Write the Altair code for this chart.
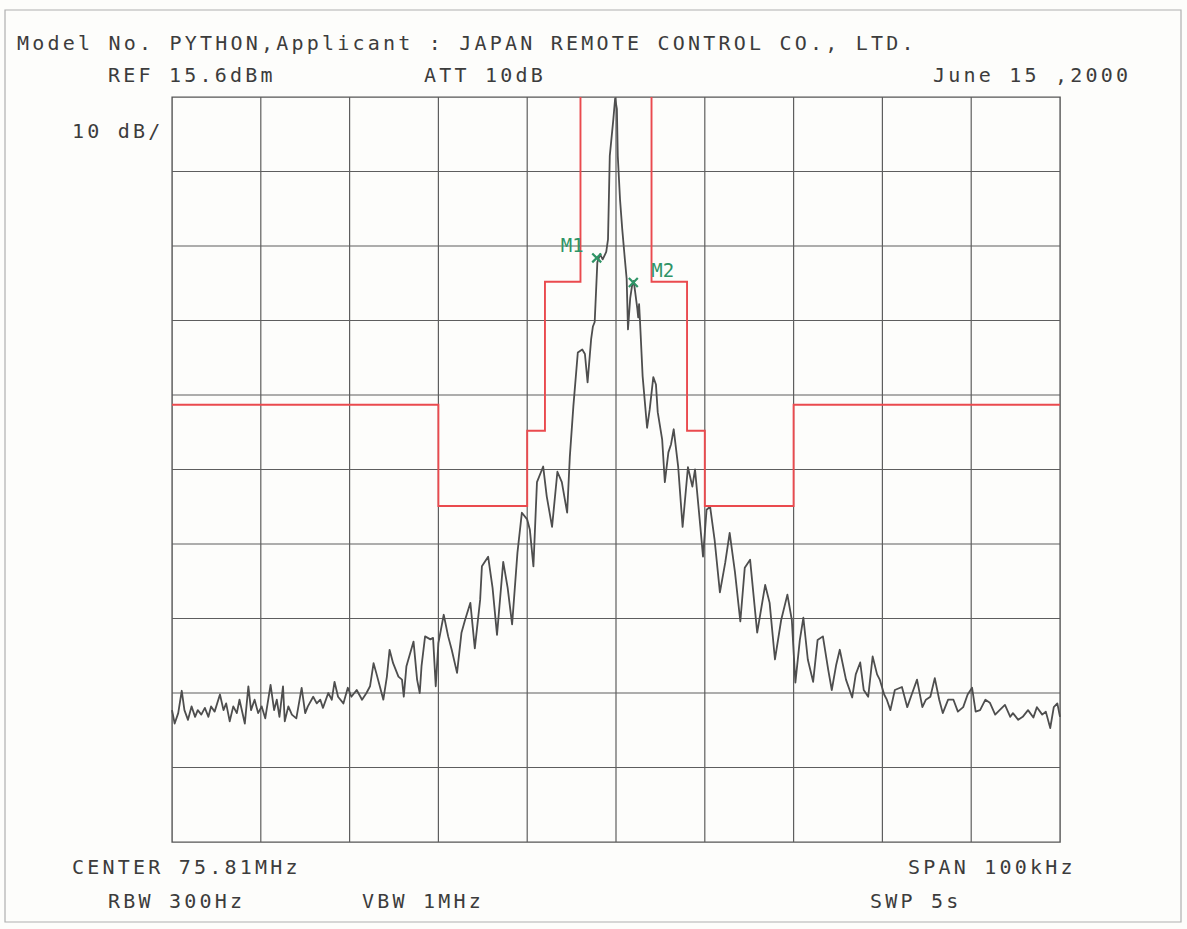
import altair as alt
import pandas as pd

# ---------------- data ----------------
# trace: frequency offset from centre (kHz) and level (dBm)
freq_khz = [
    -50.0, -49.7, -49.3, -48.9, -48.6, -48.2, -47.8, -47.4, -47.1, -46.7,
    -46.3, -45.9, -45.6, -45.2, -44.6, -44.2, -43.9, -43.5, -43.1, -42.7,
    -42.4, -41.8, -41.4, -41.1, -40.7, -40.3, -39.9, -39.5, -38.9, -38.5,
    -38.2, -37.9, -37.5, -37.3, -36.9, -36.5, -36.0, -35.4, -35.0, -34.7,
    -34.1, -33.7, -33.3, -33.0, -32.4, -32.0, -31.7, -31.3, -30.7, -30.2,
    -29.8, -29.2, -28.6, -28.1, -27.7, -27.3, -27.0, -26.6, -26.2, -25.8,
    -25.5, -25.1, -24.5, -24.1, -23.9, -23.6, -22.8, -22.4, -22.1, -21.9,
    -21.5, -20.9, -20.6, -20.3, -20.0, -19.4, -18.9, -18.5, -17.9, -17.4,
    -17.0, -16.4, -15.9, -15.3, -15.1, -14.4, -13.9, -13.4, -12.7, -12.2,
    -11.7, -11.1, -10.6, -10.0, -9.7, -9.3, -8.9, -8.2, -7.8, -7.2,
    -6.6, -6.1, -5.5, -5.2, -4.8, -4.3, -3.8, -3.5, -3.2, -2.8,
    -2.6, -2.4, -2.1, -1.8, -1.5, -1.1, -0.9, -0.7, -0.3, -0.1,
    0.1, 0.2, 0.45, 0.7, 1.0, 1.2, 1.35, 1.6, 1.8, 2.0,
    2.4, 2.5, 2.6, 2.7, 3.0, 3.5, 3.8, 4.2, 4.5, 4.7,
    5.2, 5.5, 5.9, 6.2, 6.5, 7.0, 7.5, 8.1, 8.6, 8.9,
    9.5, 9.8, 10.2, 10.6, 11.1, 11.7, 12.3, 12.8, 13.4, 14.0,
    14.5, 15.1, 15.9, 16.8, 17.3, 17.9, 18.6, 19.3, 19.8, 20.2,
    20.7, 21.1, 21.6, 22.2, 22.7, 23.3, 23.9, 24.3, 24.8, 25.2,
    25.9, 26.6, 27.0, 27.5, 27.9, 28.4, 28.9, 29.4, 29.7, 30.2,
    30.5, 30.9, 31.4, 32.2, 32.8, 33.3, 33.9, 34.5, 34.9, 35.4,
    35.9, 36.4, 36.8, 37.4, 38.0, 38.5, 39.1, 39.6, 40.1, 40.5,
    41.0, 41.6, 42.1, 42.7, 43.2, 43.8, 44.4, 44.7, 45.3, 45.8,
    46.4, 47.0, 47.4, 48.0, 48.4, 48.9, 49.3, 49.7, 50.0,
]
level_dbm = [
    -66.7, -68.5, -67.1, -64.1, -66.7, -68.0, -66.2, -67.6, -66.7, -67.3,
    -66.4, -67.6, -66.2, -66.9, -64.6, -66.7, -65.8, -68.2, -66.2, -67.1,
    -65.3, -68.5, -63.5, -66.7, -65.3, -67.1, -66.2, -67.8, -63.3, -66.7,
    -65.3, -67.6, -63.5, -68.2, -66.2, -67.3, -67.8, -63.7, -67.1, -66.2,
    -64.9, -65.8, -65.3, -66.4, -64.4, -65.3, -62.9, -64.9, -65.8, -63.7,
    -64.9, -64.0, -65.3, -64.4, -63.5, -60.4, -61.7, -63.5, -65.3, -62.2,
    -58.6, -60.4, -62.2, -62.6, -64.9, -60.8, -57.5, -62.6, -64.4, -60.8,
    -56.8, -57.2, -57.0, -63.5, -57.7, -53.9, -56.8, -58.6, -61.7, -56.3,
    -54.6, -52.3, -58.4, -51.9, -47.4, -46.1, -50.3, -56.6, -46.8, -50.3,
    -55.2, -45.6, -40.2, -41.1, -42.5, -47.4, -36.1, -34.0, -38.0, -42.1,
    -34.7, -36.1, -40.2, -32.7, -25.9, -18.7, -18.3, -18.9, -22.7, -16.9,
    -15.2, -14.6, -6.6, -5.5, -6.2, -5.2, -3.5, 7.7, 12.6, 15.4,
    14.0, 7.7, 1.9, -2.1, -6.2, -8.8, -15.6, -11.4, -9.8, -9.1,
    -12.8, -14.0, -12.2, -14.4, -21.9, -28.8, -26.3, -22.0, -23.0, -26.7,
    -30.4, -36.1, -32.1, -31.0, -29.0, -34.0, -42.1, -34.1, -36.7, -34.4,
    -42.1, -46.1, -39.8, -39.4, -43.8, -50.9, -46.9, -42.9, -48.2, -54.8,
    -47.6, -46.5, -56.3, -49.9, -52.3, -59.9, -54.6, -51.2, -54.6, -63.0,
    -57.3, -54.3, -59.9, -62.9, -57.3, -56.8, -61.3, -64.0, -60.6, -58.6,
    -62.6, -65.0, -61.9, -60.3, -64.0, -64.9, -59.5, -61.9, -62.6, -64.6,
    -65.3, -66.7, -64.0, -63.6, -66.3, -64.6, -62.6, -66.3, -65.3, -64.9,
    -62.4, -65.3, -67.1, -65.3, -65.3, -66.9, -66.3, -64.6, -63.7, -66.9,
    -66.7, -65.3, -65.7, -67.3, -66.7, -66.0, -67.6, -67.1, -68.0, -67.6,
    -66.7, -67.7, -66.3, -67.3, -66.9, -69.1, -66.3, -65.8, -67.6,
]

# limit mask (red), left and right halves
mask_left_khz = [-50, -20, -20, -10, -10, -8, -8, -4, -4]
mask_left_dbm = [-25.7, -25.7, -39.3, -39.3, -29.2, -29.2, -9.2, -9.2, 15.6]
mask_right_khz = [4, 4, 8, 8, 10, 10, 20, 20, 50]
mask_right_dbm = [15.6, -9.2, -9.2, -29.2, -29.2, -39.3, -39.3, -25.7, -25.7]

# markers
marker_names = ["M1", "M2"]
marker_khz = [-2.17, 1.95]
marker_dbm = [-6.0, -9.3]

# grid (10 kHz / div, 10 dB / div, REF 15.6 dBm)
x_ticks = [-40, -30, -20, -10, 0, 10, 20, 30, 40]
y_ticks = [5.6, -4.4, -14.4, -24.4, -34.4, -44.4, -54.4, -64.4, -74.4]

# annotation texts
title_text = "Model No. PYTHON,Applicant : JAPAN REMOTE CONTROL CO., LTD."
ref_text = "REF 15.6dBm"
att_text = "ATT 10dB"
date_text = "June 15 ,2000"
scale_text = "10 dB/"
center_text = "CENTER 75.81MHz"
rbw_text = "RBW 300Hz"
vbw_text = "VBW 1MHz"
span_text = "SPAN 100kHz"
swp_text = "SWP 5s"

# ---------------- layout ----------------
LEFT, TOP = 172, 97
W, H = 888, 745
PITCH = 15.25

trace_df = pd.DataFrame({"f": freq_khz, "db": level_dbm})
trace_df["i"] = range(len(trace_df))

mask_df = pd.concat([
    pd.DataFrame({"f": mask_left_khz, "db": mask_left_dbm, "side": "L"}),
    pd.DataFrame({"f": mask_right_khz, "db": mask_right_dbm, "side": "R"}),
], ignore_index=True)
mask_df["i"] = range(len(mask_df))

mk_df = pd.DataFrame({"name": marker_names, "f": marker_khz, "db": marker_dbm})
xg_df = pd.DataFrame({"f": x_ticks})
yg_df = pd.DataFrame({"db": y_ticks})

# per-character placement (plotter font has a wide fixed pitch)
placements = [
    (title_text, 23, 44),
    (ref_text, 114, 76),
    (att_text, 430, 76),
    (date_text, 939, 76),
    (scale_text, 78, 132),
    (center_text, 78, 868),
    (rbw_text, 114, 902),
    (vbw_text, 368, 902),
    (span_text, 914, 868),
    (swp_text, 876, 902),
]
rows = []
for s, x0, y0 in placements:
    for k, ch in enumerate(s):
        if ch != " ":
            rows.append({"ch": ch, "px": x0 + k * PITCH - LEFT, "py": y0 - TOP})
chars_df = pd.DataFrame(rows)

xs = alt.Scale(domain=[-50, 50], nice=False, zero=False)
ys = alt.Scale(domain=[-84.4, 15.6], nice=False, zero=False)
X = alt.X("f:Q", scale=xs, axis=None)
Y = alt.Y("db:Q", scale=ys, axis=None)

grid_color = "#5e5e5e"

vgrid = alt.Chart(xg_df).mark_rule(color=grid_color, strokeWidth=1.2).encode(x=X)
hgrid = alt.Chart(yg_df).mark_rule(color=grid_color, strokeWidth=1.2).encode(y=Y)

trace = alt.Chart(trace_df).mark_line(
    color="#4e4e4e", strokeWidth=1.8, strokeJoin="round"
).encode(x=X, y=Y, order=alt.Order("i:Q"))

mask = alt.Chart(mask_df).mark_line(color="#ea4a4e", strokeWidth=1.9).encode(
    x=X, y=Y, detail="side:N", order=alt.Order("i:Q"),
)

green = "#2f9466"
markers = alt.Chart(mk_df).mark_point(
    shape="M-1,-1L1,1M-1,1L1,-1", size=80, filled=False, color=green, strokeWidth=2.2, opacity=1
).encode(x=X, y=Y)

m1_label = alt.Chart(mk_df[mk_df.name == "M1"]).mark_text(
    font="DejaVu Sans Mono", fontSize=19, color=green, align="right", baseline="middle", dx=-13, dy=-12
).encode(x=X, y=Y, text="name:N")

m2_label = alt.Chart(mk_df[mk_df.name == "M2"]).mark_text(
    font="DejaVu Sans Mono", fontSize=19, color=green, align="left", baseline="middle", dx=18, dy=-12
).encode(x=X, y=Y, text="name:N")

texts = alt.Chart(chars_df).mark_text(
    font="DejaVu Sans Mono", fontSize=20, color="#3c3c3c", align="center", baseline="middle"
).encode(
    x=alt.X("px:Q", scale=None, axis=None),
    y=alt.Y("py:Q", scale=None, axis=None),
    text="ch:N",
)

frame = alt.Chart(pd.DataFrame({"a": [0]})).mark_rect(
    fillOpacity=0, stroke="#b0b0b0", strokeWidth=1.2
).encode(
    x=alt.value(5 - LEFT), x2=alt.value(1181 - LEFT),
    y=alt.value(10 - TOP), y2=alt.value(922 - TOP),
)

chart = alt.layer(frame, vgrid, hgrid, trace, mask, markers, m1_label, m2_label, texts).properties(
    width=W, height=H,
    padding={"left": LEFT, "top": TOP, "right": 1187 - LEFT - W, "bottom": 929 - TOP - H},
    autosize="none",
    background="#fdfdfb",
).configure_view(
    stroke="#555555", strokeWidth=1.4
)

chart.save("out.html", embed_options={"renderer": "svg", "actions": False})
